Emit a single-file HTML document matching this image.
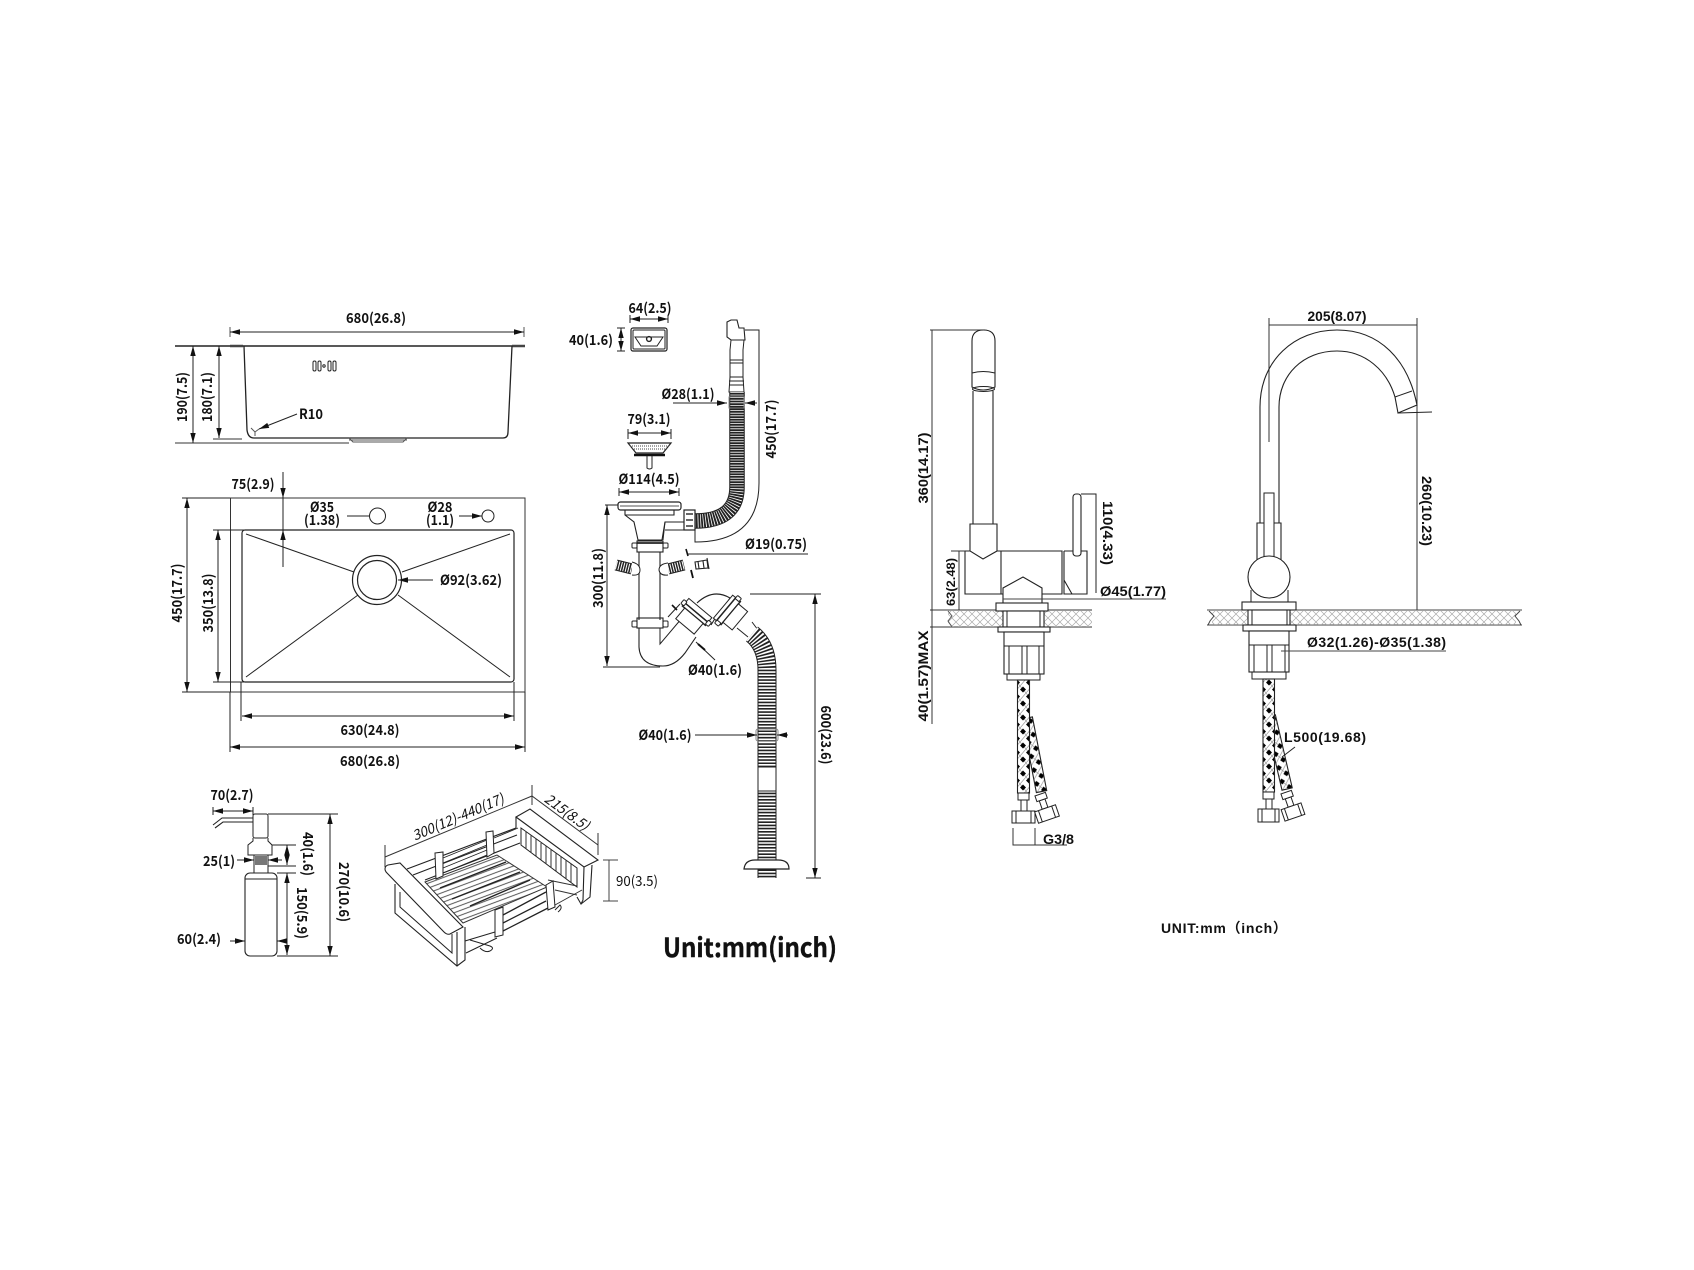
<!DOCTYPE html>
<html><head><meta charset="utf-8"><style>
html,body{margin:0;padding:0;background:#fff;width:1694px;height:1270px;overflow:hidden}
svg{display:block;filter:blur(.3px)}
text{stroke:none;fill:#111}
.b{font:700 14px "Noto Sans CJK SC","Liberation Sans",sans-serif}
.a{font:700 14px "Liberation Sans",sans-serif}
.r{font:400 14px "Noto Sans CJK SC","Liberation Sans",sans-serif}
</style></head><body>
<svg width="1694" height="1270" viewBox="0 0 1694 1270" xmlns="http://www.w3.org/2000/svg">
<defs>
<marker id="m" markerUnits="userSpaceOnUse" markerWidth="11" markerHeight="6" refX="10" refY="3" orient="auto-start-reverse"><path d="M0 .3L10 3L0 5.700z" fill="#111" stroke="none"/></marker>
<pattern id="braid" patternUnits="userSpaceOnUse" width="12" height="14"><rect width="12" height="14" fill="#fff"/><path d="M0 0L12 14M12 0L0 14M6 -7L18 7M-6 7L6 21" stroke="#999" stroke-width=".7"/><path d="M3 0.500L6 3.500L3 6.500L0 3.500zM9 7.500L12 10.500L9 13.500L6 10.500z" fill="#000" stroke="none"/></pattern>
<pattern id="stone" patternUnits="userSpaceOnUse" x="0" y="610" width="16" height="16"><path d="M0 8L8 0L16 8L8 16zM0 0L16 16M16 0L0 16" fill="none" stroke="#aaa" stroke-width=".7"/></pattern>
<pattern id="rack" patternUnits="userSpaceOnUse" width="8" height="4.600" patternTransform="rotate(-20.500)"><rect width="8" height="4.600" fill="#fff"/><path d="M0 2H8" stroke="#444" stroke-width=".9"/></pattern>
</defs>
<g fill="none" stroke="#222" stroke-width="1">

<!-- sink side view -->
<path d="M230 327V337M524 327V337" stroke="#555"/>
<path d="M230 332H524" marker-start="url(#m)" marker-end="url(#m)"/>
<path d="M175 346H525" stroke-width="1.400"/>
<path d="M230 346H243M512 346H525" stroke-width="2.400" stroke="#444"/>
<path d="M244 346L247 430Q248 438 254 438H503Q508 438 508 432L512 346" stroke-width="1.300"/>
<path d="M349 438L353 442H403L407 438M349 440H407" stroke="#555"/>
<path d="M175 443H349M213 439H242" stroke="#333"/>
<path d="M193 346V443" marker-start="url(#m)" marker-end="url(#m)"/>
<path d="M219 346V438" marker-start="url(#m)" marker-end="url(#m)"/>
<rect x="313" y="361" width="3" height="10" rx="1.500"/><rect x="318" y="361" width="3" height="10" rx="1.500"/>
<circle cx="324" cy="366" r="1.200"/><rect x="328" y="361" width="3" height="10" rx="1.500"/><rect x="333" y="361" width="3" height="10" rx="1.500"/>
<path d="M297 414L259 429" marker-end="url(#m)"/>
<path d="M251 428L255 432L259 429M255 432V436" stroke="#555"/>

<!-- sink top view -->
<rect x="230.500" y="498" width="294.500" height="194" stroke="#333"/>
<rect x="242" y="530" width="272" height="152" rx="3" stroke-width="1.200"/>
<circle cx="377" cy="580" r="24.500" stroke-width="1.200"/><circle cx="377" cy="580" r="19.500" stroke-width="1.200"/>
<path d="M246 534L354 572M510 534L402 572M246 677L358 595M510 677L398 595"/>
<circle cx="377.500" cy="516" r="8"/><circle cx="488" cy="516" r="6"/>
<path d="M347 516H369M459 516H482" marker-end="url(#m)"/>
<path d="M283 472V498" marker-end="url(#m)"/>
<path d="M283 567V530" marker-end="url(#m)"/>
<path d="M283 498V530"/>
<path d="M182 498H230M182 692H230M213 530H290M213 682H290"/>
<path d="M187 498V692" marker-start="url(#m)" marker-end="url(#m)"/>
<path d="M218 530V682" marker-start="url(#m)" marker-end="url(#m)"/>
<path d="M241 682V721M514 682V721M230 692V752M525 692V752"/>
<path d="M242 716H514" marker-start="url(#m)" marker-end="url(#m)"/>
<path d="M230 747H525" marker-start="url(#m)" marker-end="url(#m)"/>
<path d="M433 580H398" marker-end="url(#m)"/>

<!-- overflow plate -->
<path d="M630 315V323M668 315V323"/><path d="M630 319H668" marker-start="url(#m)" marker-end="url(#m)"/>
<path d="M621 328V351" marker-start="url(#m)" marker-end="url(#m)"/><path d="M617 328H625M617 351H625"/>
<rect x="631" y="328" width="36" height="23" rx="2" stroke-width="1.200"/><rect x="633" y="330" width="32" height="19" rx="1"/>
<path d="M635 337H663L657 346H641z"/><circle cx="649" cy="339" r="2.400" stroke-width="1.400"/>

<!-- upper overflow hose -->
<path d="M727 322L731 320H737L739 328H744L745 340H731L727 337z" stroke-width="1.100"/>
<path d="M731 340L730 350V377H743V350L744 340H731M730 360H743M730 363H743M730 377H743" stroke-width="1"/>
<path d="M730 377L729 392H744L743 377M729 381H744M729 385H744"/>
<path d="M737 392V487Q737 521 695 521" stroke="#222" stroke-width="15.500"/>
<path d="M737 392V487Q737 521 695 521" stroke="#fff" stroke-width="13.500" stroke-dasharray=".8 1.800"/>
<rect x="729" y="397" width="15" height="11" fill="none" stroke="#888"/>
<path d="M745 330H759V483Q759 542 695 542V528"/>
<path d="M673 403H727" marker-end="url(#m)"/><path d="M757 403H745" marker-end="url(#m)"/>

<!-- strainer -->
<path d="M628 429V439M671 429V439"/><path d="M628 433H671" marker-start="url(#m)" marker-end="url(#m)"/>
<path d="M628 443H671L663 453H636z" fill="#fff" stroke-width="1.200"/>
<path d="M630 446H669M632 449H667" stroke="#444" stroke-dasharray="1 1"/>
<path d="M634 455H665" stroke="#111" stroke-width="2.400"/>
<path d="M647 456V468Q649.500 470 652 468V456"/>
<path d="M619 488V496M679 488V496"/><path d="M619 492H679" marker-start="url(#m)" marker-end="url(#m)"/>

<!-- drain -->
<rect x="618" y="502" width="63" height="8" rx="2.500" stroke-width="1.200"/><path d="M620 506H679" stroke="#555"/>
<path d="M625 510V515L634 522L638 540H662L665 522H684M625 515H674V510M665 530H684" stroke-width="1.100"/>
<path d="M665 522L663 540"/>
<rect x="684" y="510" width="11" height="20" stroke-width="1.200"/><path d="M686 514H693M686 520H693M686 526H693" stroke="#333" stroke-width="1.400"/>
<rect x="637" y="541" width="26" height="11" stroke-width="1.100"/><path d="M637 543H663" stroke-width="1.800"/>
<rect x="632" y="543" width="5" height="5" rx="1"/><rect x="663" y="543" width="5" height="5" rx="1"/>
<path d="M639 552V620M660 552V620" stroke-width="1.100"/>
<rect x="637" y="618" width="26" height="10" stroke-width="1.100"/>
<rect x="632" y="621" width="5" height="6" rx="1"/><rect x="663" y="621" width="5" height="6" rx="1"/>
<path d="M639 628V647Q640 666 663 666Q675 666 685 653L696 637" stroke-width="1.100"/>
<path d="M660 628V644L682 618" stroke-width="1"/>
<!-- side hoses -->
<path d="M616 565L632 569" stroke="#222" stroke-width="11"/><path d="M616 565L632 569" stroke="#fff" stroke-width="9" stroke-dasharray="1 1.500"/>
<path d="M632 562Q640 564 640 570Q640 576 632 575" fill="#fff"/>
<path d="M668 569L684 565" stroke="#222" stroke-width="11"/><path d="M668 569L684 565" stroke="#fff" stroke-width="9" stroke-dasharray="1 1.500"/>
<path d="M668 563Q659 564 659 570Q660 576 668 575" fill="#fff"/>
<path d="M695 562L707 560L708 568L696 569zM698 561.500L699 568.500M703 561L704 568M707 558L709 569" stroke-width="1.100"/>
<path d="M808 554H688"/><path d="M686 549L688 556" stroke="#111" stroke-width="1.600"/><path d="M691 570L693 578" stroke="#111" stroke-width="1.800"/>
<path d="M605 505H618M603 667H660"/><path d="M607 505V666" marker-start="url(#m)" marker-end="url(#m)"/>

<!-- P trap couplings -->
<path d="M697 603Q713 588 730 598Q724 608 716 617L711 625" stroke-width="1.100"/>
<g transform="translate(692 618) rotate(40)"><rect x="-15" y="-13" width="30" height="6" fill="#fff"/><rect x="-15" y="-7" width="30" height="4" fill="#fff" stroke-width="1.500"/><rect x="-12" y="-3" width="24" height="14" fill="#fff"/><rect x="-18" y="-9" width="4" height="5" rx="1" fill="#fff"/><rect x="14" y="-9" width="4" height="5" rx="1" fill="#fff"/></g>
<g transform="translate(733 615) rotate(-50)"><rect x="-15" y="-13" width="30" height="4" fill="#fff"/><rect x="-15" y="-9" width="30" height="6" fill="#fff" stroke-width="1.500"/><rect x="-12" y="-3" width="24" height="12" fill="#fff"/><rect x="-18" y="-9" width="4" height="5" rx="1" fill="#fff"/><rect x="14" y="-9" width="4" height="5" rx="1" fill="#fff"/></g>
<path d="M737 628L748 637M752 622L758 630"/>
<path d="M752 634Q767 646 767 670V767" stroke="#222" stroke-width="19"/>
<path d="M752 634Q767 646 767 670V767" stroke="#fff" stroke-width="17" stroke-dasharray="1.600 1.600"/>
<path d="M767 791V878" stroke="#222" stroke-width="19"/><path d="M767 791V878" stroke="#fff" stroke-width="17" stroke-dasharray="1.600 1.600"/>
<rect x="758" y="767" width="18" height="24" fill="#fff"/>
<rect x="756" y="729" width="22" height="12" rx="2" stroke="#888"/>
<path d="M744 869Q745 860 755 860H778Q789 860 789 869z" fill="#fff" stroke-width="1.200"/>
<path d="M668 617L680 604" stroke="#222"/><path d="M672 605L677 610" stroke="#111" stroke-width="1.600"/>
<path d="M715 660L696 642" stroke="#222"/><path d="M698 644L705 650" stroke="#111" stroke-width="2"/>
<path d="M695 735H757" marker-end="url(#m)"/><path d="M788 735H777" marker-end="url(#m)"/>
<path d="M750 594H821M806 878H821"/><path d="M815 594V878" marker-start="url(#m)" marker-end="url(#m)"/>
<path d="M603 860H618M603 901H618M609 860V901" stroke="#444"/>

<!-- soap dispenser -->
<path d="M213 825L222 818H253M215 828L223 822H253" stroke-width="1.100"/>
<rect x="253" y="814" width="15" height="24" rx="2"/>
<path d="M253 838V841L248 845V855H272V845L268 841V838M254 855V873H268V855"/>
<rect x="255" y="856" width="12" height="9" fill="#777" stroke="none"/>
<rect x="245" y="873" width="32" height="83" rx="5" stroke-width="1.100"/><path d="M245 879H277"/>
<path d="M213 807V815M253 807V815"/><path d="M213 811H253" marker-start="url(#m)" marker-end="url(#m)"/>
<path d="M268 814H338M277 956H338M272 845H296M268 866H296M277 873H296"/>
<path d="M330 814V956" marker-start="url(#m)" marker-end="url(#m)"/>
<path d="M287 845V865" marker-start="url(#m)" marker-end="url(#m)"/>
<path d="M287 873V955" marker-start="url(#m)" marker-end="url(#m)"/>
<path d="M237 860H254" marker-end="url(#m)"/><path d="M282 860H268" marker-end="url(#m)"/>
<path d="M230 941H245" marker-end="url(#m)"/><path d="M283 941H277" marker-end="url(#m)"/>

<!-- basket -->
<path d="M385 857L532 796L598 845M385 845V867M532 785V805M598 833V855" stroke="#333"/>
<path d="M407 869L516 828M413 875L517 835M425 880L520 843" stroke-width="1.100"/>
<path d="M443 858L487 840M443 863L487 845M443 868L487 850M443 873L487 855M494 838L518 828" stroke-width=".9"/>
<polygon points="425,882 497,855 547,887 463,923" fill="url(#rack)" stroke="#333"/>
<path d="M440 888L506 862M452 899L520 872M470 906L530 880" stroke="#222" stroke-width="1.400"/>
<polygon points="435,853 443,852 443,876 436,879" fill="#fff"/>
<polygon points="486,832 493,831 494,853 487,857" fill="#fff"/>
<polygon points="516,817 530,809 598,860 584,867" fill="#fff" stroke-width="1.100"/>
<path d="M516 817V828M584 867L583 900L581 904L577 897M592 865L590 897L581 904" stroke-width="1.100"/>
<polygon points="521,828 577,868 577,887 521,845" fill="#fff"/>
<path d="M526 832V849M531 835V853M536 839V856M541 843V860M546 846V864M551 850V868M556 853V871M561 857V875M566 860V879M571 864V883" stroke="#333"/>
<path d="M555 890L577 895M555 905L582 890M548 880L577 886" stroke="#333"/>
<path d="M503 915L546 892M503 923L546 901M503 931L548 908" stroke-width="1.300"/>
<polygon points="546,885 553,881 555,907 548,910" fill="#fff"/>
<polygon points="495,910 503,907 503,935 495,937" fill="#fff"/>
<path d="M465 941L495 932M466 953L497 938M470 940L490 946Q495 948 490 951Q485 953 480 948M555 910L560 905Q563 908 558 912" stroke-width="1"/>
<path d="M395 884V913L457 966L465 960V927" fill="#fff" stroke-width="1.100"/>
<path d="M400 892V907L452 953V934" fill="none"/>
<path d="M457 932V966" stroke-width="1.100"/>
<path d="M385 869Q385 866 388 865L400 863L463 927L450 934Q447 935 444 932L387 873Q385 871 385 869z" fill="#fff" stroke-width="1.100"/>

<!-- faucet 1 -->
<path d="M930 330H985M930 610H1092M930 627H1092" stroke="#333"/>
<path d="M932 330V724" stroke="#333"/>
<rect x="948" y="611" width="55" height="16" fill="url(#stone)" stroke="none"/>
<rect x="1044" y="611" width="48" height="16" fill="url(#stone)" stroke="none"/>
<path d="M948 611L952 616L948 621L952 627" stroke="#555" stroke-width="1"/>
<path d="M972 373V341Q972 330 983.500 330Q995 330 995 341V373M972 373Q983 370 995 373V387Q983 393 972 387z" fill="#fff" stroke-width="1.100"/>
<ellipse cx="983.500" cy="389" rx="11" ry="2.500" stroke-width="1.100"/>
<path d="M973 391V524M993 391V524" stroke-width="1.100"/>
<path d="M970 524H997V551L983 559L970 551z" stroke-width="1.100"/>
<path d="M970 551H965V594H1062V551H997M1001 551V594" stroke-width="1.100"/>
<path d="M1064 551V594H1087V551H1064M1064 580L1072 594" stroke-width="1.100"/>
<rect x="1073" y="494" width="8" height="62" rx="3" fill="#fff" stroke-width="1.100"/>
<path d="M1081 494H1096V593"/>
<path d="M1003 603V588L1023 577L1042 588V603" fill="#fff" stroke-width="1.100"/>
<path d="M1003 599H1166" stroke="#444"/>
<path d="M959 551V610M951 551H965" stroke="#333"/>
<rect x="996" y="603" width="52" height="8" fill="#fff" stroke-width="1.100"/>
<rect x="1003" y="611" width="41" height="16" fill="#fff" stroke-width="1.100"/><path d="M1007 611V627M1040 611V627"/>
<rect x="998" y="627" width="52" height="5" fill="#fff" stroke-width="1.100"/>
<rect x="1004" y="632" width="40" height="42" fill="#fff" stroke-width="1.100"/><path d="M1004 646H1044M1009 646V674M1022 646V674M1027 646V674M1039 646V674"/>
<rect x="1007" y="674" width="33" height="6"/>
<g transform="translate(1027 718) rotate(-11)"><rect x="-5" y="0" width="10.500" height="75" fill="url(#braid)" stroke-width="1.100"/></g>
<rect x="1017.500" y="680" width="12" height="113" fill="url(#braid)" stroke-width="1.100"/>
<rect x="1018" y="793" width="11" height="7" fill="#fff"/><rect x="1021" y="800" width="6" height="11" fill="#fff"/>
<rect x="1012" y="811" width="23" height="12" fill="#fff"/><path d="M1016 811V823M1031 811V823"/>
<g transform="translate(1047 814) rotate(-19)"><rect x="-3" y="-15" width="6" height="9" fill="#fff"/><rect x="-5.500" y="-21" width="11" height="6" fill="#fff"/><rect x="-11" y="-6" width="22" height="12" fill="#fff"/><path d="M-7 -6V6M7 -6V6"/></g>
<path d="M1013 828V845H1067M1035 828V845" stroke="#333"/>

<!-- faucet 2 -->
<path d="M1269 325H1417" stroke="#333"/>
<path d="M1269 318V442M1417 318V610" stroke="#333"/>
<path d="M1260 523V407C1260 360 1295 330 1337 330C1380 330 1408 360 1417 405L1398 413L1395 397C1387 370 1365 351 1337 351C1303 351 1279 375 1279 407V523" stroke-width="1.100"/>
<path d="M1395 397L1412 391M1398 413L1432 412"/>
<path d="M1257 560V523H1281V560" fill="#fff" stroke-width="1.100"/>
<rect x="1264" y="493" width="10" height="66" fill="#fff"/>
<path d="M1251 590V603M1288 590V603"/>
<circle cx="1269" cy="577" r="21" fill="#fff" stroke-width="1.100"/>
<path d="M1207 610H1522M1207 625H1522" stroke="#444" stroke-width="1.100"/>
<rect x="1212" y="611" width="36" height="14" fill="url(#stone)" stroke="none"/>
<rect x="1290" y="611" width="226" height="14" fill="url(#stone)" stroke="none"/>
<path d="M1209 611L1214 616L1210 621L1208 625M1520 611L1515 616L1519 621L1521 625" stroke="#444"/>
<rect x="1242" y="602" width="54" height="8" fill="#fff" stroke-width="1.100"/>
<rect x="1248" y="610" width="42" height="15" fill="#fff" stroke-width="1.100"/><path d="M1252 610V625M1287 610V625"/>
<rect x="1243" y="625" width="53" height="6" fill="#fff" stroke-width="1.100"/>
<rect x="1249" y="631" width="40" height="41" fill="#fff" stroke-width="1.100"/><path d="M1249 645H1289M1254 645V672M1267 645V672M1272 645V672M1285 645V672"/>
<rect x="1252" y="672" width="34" height="7"/>
<path d="M1281 651H1446" stroke="#444"/>
<g transform="translate(1270 716) rotate(-13)"><rect x="-5" y="0" width="10.500" height="75" fill="url(#braid)" stroke-width="1.100"/></g>
<rect x="1263" y="679" width="11.500" height="113" fill="url(#braid)" stroke-width="1.100"/>
<rect x="1263" y="792" width="11" height="7" fill="#fff"/><rect x="1266" y="799" width="6" height="10" fill="#fff"/>
<rect x="1258" y="809" width="21" height="13" fill="#fff"/><path d="M1262 809V822M1275 809V822"/>
<g transform="translate(1293 812) rotate(-19)"><rect x="-3" y="-15" width="6" height="9" fill="#fff"/><rect x="-5.500" y="-21" width="11" height="6" fill="#fff"/><rect x="-10.500" y="-6" width="21" height="12" fill="#fff"/><path d="M-7 -6V6M7 -6V6"/></g>
<path d="M1295 747L1282 757"/>
</g>

<!-- labels -->
<g class="b">
<text x="376" y="323" text-anchor="middle" textLength="60" lengthAdjust="spacingAndGlyphs">680(26.8)</text>
<text transform="translate(182 397) rotate(-90)" y="5" text-anchor="middle" textLength="50" lengthAdjust="spacingAndGlyphs">190(7.5)</text>
<text transform="translate(207 397) rotate(-90)" y="5" text-anchor="middle" textLength="50" lengthAdjust="spacingAndGlyphs">180(7.1)</text>
<text x="299" y="419" textLength="24" lengthAdjust="spacingAndGlyphs">R10</text>
<text x="253" y="489" text-anchor="middle" textLength="43" lengthAdjust="spacingAndGlyphs">75(2.9)</text>
<text x="322" y="512" text-anchor="middle" textLength="24" lengthAdjust="spacingAndGlyphs">Ø35</text>
<text x="322" y="525" text-anchor="middle" textLength="36" lengthAdjust="spacingAndGlyphs">(1.38)</text>
<text x="440" y="512" text-anchor="middle" textLength="25" lengthAdjust="spacingAndGlyphs">Ø28</text>
<text x="440" y="525" text-anchor="middle" textLength="28" lengthAdjust="spacingAndGlyphs">(1.1)</text>
<text transform="translate(177 593) rotate(-90)" y="5" text-anchor="middle" textLength="59" lengthAdjust="spacingAndGlyphs">450(17.7)</text>
<text transform="translate(208 603) rotate(-90)" y="5" text-anchor="middle" textLength="59" lengthAdjust="spacingAndGlyphs">350(13.8)</text>
<text x="370" y="735" text-anchor="middle" textLength="59" lengthAdjust="spacingAndGlyphs">630(24.8)</text>
<text x="370" y="766" text-anchor="middle" textLength="60" lengthAdjust="spacingAndGlyphs">680(26.8)</text>
<text x="440" y="585" textLength="62" lengthAdjust="spacingAndGlyphs">Ø92(3.62)</text>
<text x="650" y="313" text-anchor="middle" textLength="43" lengthAdjust="spacingAndGlyphs">64(2.5)</text>
<text x="591" y="345" text-anchor="middle" textLength="44" lengthAdjust="spacingAndGlyphs">40(1.6)</text>
<text x="688" y="399" text-anchor="middle" textLength="53" lengthAdjust="spacingAndGlyphs">Ø28(1.1)</text>
<text x="649" y="424" text-anchor="middle" textLength="43" lengthAdjust="spacingAndGlyphs">79(3.1)</text>
<text transform="translate(771 429) rotate(-90)" y="5" text-anchor="middle" textLength="59" lengthAdjust="spacingAndGlyphs">450(17.7)</text>
<text x="649" y="484" text-anchor="middle" textLength="61" lengthAdjust="spacingAndGlyphs">Ø114(4.5)</text>
<text x="776" y="549" text-anchor="middle" textLength="62" lengthAdjust="spacingAndGlyphs">Ø19(0.75)</text>
<text transform="translate(598 578) rotate(-90)" y="5" text-anchor="middle" textLength="60" lengthAdjust="spacingAndGlyphs">300(11.8)</text>
<text x="715" y="675" text-anchor="middle" textLength="54" lengthAdjust="spacingAndGlyphs">Ø40(1.6)</text>
<text x="665" y="740" text-anchor="middle" textLength="53" lengthAdjust="spacingAndGlyphs">Ø40(1.6)</text>
<text transform="translate(826 735) rotate(90)" y="5" text-anchor="middle" textLength="59" lengthAdjust="spacingAndGlyphs">600(23.6)</text>
<text x="663" y="957" style="font-size:26px;stroke:#111;stroke-width:.4" textLength="174" lengthAdjust="spacingAndGlyphs">Unit:mm(inch)</text>
<text x="232" y="800" text-anchor="middle" textLength="43" lengthAdjust="spacingAndGlyphs">70(2.7)</text>
<text x="219" y="866" text-anchor="middle" textLength="32" lengthAdjust="spacingAndGlyphs">25(1)</text>
<text x="199" y="944" text-anchor="middle" textLength="44" lengthAdjust="spacingAndGlyphs">60(2.4)</text>
<text transform="translate(308 854) rotate(90)" y="5" text-anchor="middle" textLength="44" lengthAdjust="spacingAndGlyphs">40(1.6)</text>
<text transform="translate(302 913) rotate(90)" y="5" text-anchor="middle" textLength="52" lengthAdjust="spacingAndGlyphs">150(5.9)</text>
<text transform="translate(344 892) rotate(90)" y="5" text-anchor="middle" textLength="60" lengthAdjust="spacingAndGlyphs">270(10.6)</text>
</g>
<g class="r">
<text x="616" y="886" textLength="42" lengthAdjust="spacingAndGlyphs">90(3.5)</text>
<text transform="translate(458 817) rotate(-23)" y="5" text-anchor="middle" font-style="italic" textLength="98" lengthAdjust="spacingAndGlyphs">300(12)-440(17)</text>
<text transform="translate(567 812) rotate(36)" y="5" text-anchor="middle" font-style="italic" textLength="51" lengthAdjust="spacingAndGlyphs">215(8.5)</text>
</g>
<g class="a">
<text transform="translate(923 468) rotate(-90)" y="5" text-anchor="middle" textLength="71" lengthAdjust="spacingAndGlyphs">360(14.17)</text>
<text transform="translate(923 676) rotate(-90)" y="5" text-anchor="middle" textLength="91" lengthAdjust="spacingAndGlyphs">40(1.57)MAX</text>
<text transform="translate(951 582) rotate(-90)" y="4" text-anchor="middle" style="font-size:12px" textLength="48" lengthAdjust="spacingAndGlyphs">63(2.48)</text>
<text transform="translate(1108 533) rotate(90)" y="5" text-anchor="middle" textLength="64" lengthAdjust="spacingAndGlyphs">110(4.33)</text>
<text x="1100" y="596" textLength="66" lengthAdjust="spacingAndGlyphs">Ø45(1.77)</text>
<text x="1043" y="844" textLength="31" lengthAdjust="spacingAndGlyphs">G3/8</text>
<text x="1337" y="321" text-anchor="middle" textLength="59" lengthAdjust="spacingAndGlyphs">205(8.07)</text>
<text transform="translate(1427 511) rotate(90)" y="5" text-anchor="middle" textLength="70" lengthAdjust="spacingAndGlyphs">260(10.23)</text>
<text x="1307" y="647" textLength="139" lengthAdjust="spacing">Ø32(1.26)-Ø35(1.38)</text>
<text x="1284" y="742" textLength="82" lengthAdjust="spacing">L500(19.68)</text>
<text x="1161" y="933" style="font-family:'Liberation Sans','Noto Sans CJK SC',sans-serif;letter-spacing:.7px">UNIT:mm（inch）</text>
</g>
</svg>
</body></html>
